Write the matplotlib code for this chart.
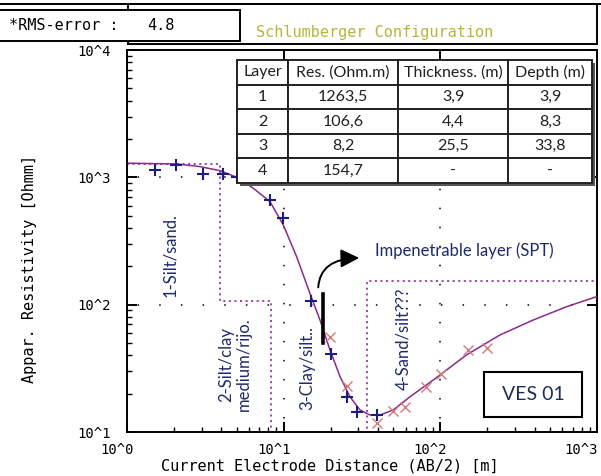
import matplotlib
matplotlib.use("Agg")
import matplotlib.pyplot as plt
from matplotlib.patches import Rectangle
from matplotlib.lines import Line2D
from matplotlib.ticker import LogLocator, NullFormatter
from matplotlib.transforms import ScaledTranslation

plt.rcParams['lines.scale_dashes'] = False

# field data (AB/2 in m, apparent resistivity in Ohm.m)
ab2_plus = [1.51, 2.05, 3.05, 4.10, 5.04, 8.18, 9.9, 14.9, 20.0, 25.3, 29.4, 39.4]
rho_plus = [1143, 1251, 1064, 1064, 1007, 664, 480, 107, 41, 18.8, 14.4, 13.6]
ab2_cross = [19.8, 25.3, 39.4, 49.8, 59.4, 80.9, 100.9, 150, 198]
rho_cross = [55.7, 23.0, 11.8, 14.6, 15.7, 22.6, 28.5, 44.1, 45.7]

# fitted curve
ab2_model = [1.02, 2.08, 2.92, 3.92, 5.01, 6.40, 8.18, 9.94, 12.1, 14.7, 17.05, 19.75,
             22.9, 26.5, 30.7, 35.5, 41.2, 50.1, 64.0, 90.1, 147, 240, 392, 640, 994]
rho_model = [1291, 1274, 1214, 1129, 1002, 821, 644, 423, 238, 123, 75.8, 44.1,
             27.2, 18.9, 14.9, 13.6, 13.6, 14.9, 18.9, 25.6, 40.3, 57.8, 75.8, 96.4, 115.6]

# layer model
layer_no = ["1", "2", "3", "4"]
layer_res = [1263.5, 106.6, 8.2, 154.7]
layer_thick = ["3,9", "4,4", "25,5", "-"]
layer_depth = [3.9, 8.3, 33.8]
table_header = ["Layer", "Res. (Ohm.m)", "Thickness. (m)", "Depth (m)"]

x_ticks = [1, 10, 100, 1000]
x_labels = ["10^0", "10^1", "10^2", "10^3"]
y_ticks = [10, 100, 1000, 10000]
y_labels = ["10^1", "10^2", "10^3", "10^4"]

W, H = 601, 476
fig = plt.figure(figsize=(W / 100, H / 100), dpi=100)
ax = fig.add_axes([127 / W, 1 - 432 / H, 470 / W, 382 / H])

mono = "DejaVu Sans Mono"
sans = "Lato"
purple = "#8b2a8b"
navy = "#1f2a6a"


def fx(px):
    return px / W


def fy(py):
    return 1 - py / H


# header boxes
fig.add_artist(Line2D([0, 1], [fy(4), fy(4)], transform=fig.transFigure, color="black", lw=1.4))
fig.add_artist(Rectangle((fx(128), fy(44)), fx(597) - fx(128), fy(4) - fy(44),
                         transform=fig.transFigure, fill=False, ec="black", lw=1.4))
fig.add_artist(Rectangle((fx(-2), fy(41)), fx(242), fy(10) - fy(41),
                         transform=fig.transFigure, fc="white", ec="black", lw=1.4, zorder=3))
fig.text(fx(9), fy(26), "*RMS-error :", family=mono, fontsize=11, va="center", zorder=4)
fig.text(fx(147), fy(26), "4.8", family=mono, fontsize=11, va="center", zorder=4)
fig.text(fx(375), fy(32), "Schlumberger Configuration", family=mono, fontsize=11,
         color="#b8b43a", ha="center", va="center")

ax.set_xscale("log")
ax.set_yscale("log")
ax.set_xlim(1, 1000)
ax.set_ylim(10, 10000)

# dotted grid
for yv in [100, 1000]:
    ax.axhline(yv, color="black", lw=1.1, ls=(8, (1.1, 14.5)), zorder=1)
for xv in [10, 100]:
    ax.axvline(xv, color="black", lw=1.1, ls=(4, (1.1, 12.6)), zorder=1)

# step layer model
xs, ys = [1], [layer_res[0]]
for i, d in enumerate(layer_depth):
    xs += [d, d]
    ys += [layer_res[i], layer_res[i + 1]]
xs.append(1000)
ys.append(layer_res[-1])
ax.plot(xs, ys, color="#9a3aa8", lw=1.3, ls=(0, (1.5, 2.5)), zorder=2)

ax.plot(ab2_model, rho_model, color=purple, lw=1.1, zorder=3)
ax.plot(ab2_plus, rho_plus, ls="none", marker="+", ms=9, mew=1.5, color="#1c1c80", zorder=4)
ax.plot(ab2_cross, rho_cross, ls="none", marker="x", ms=7, mew=1.0, color="#d07a7a", zorder=4)

# ticks
ax.set_xticks(x_ticks, labels=x_labels)
ax.set_yticks(y_ticks, labels=y_labels)
ax.xaxis.set_minor_locator(LogLocator(base=10, subs=range(2, 10)))
ax.yaxis.set_minor_locator(LogLocator(base=10, subs=range(2, 10)))
ax.xaxis.set_minor_formatter(NullFormatter())
ax.yaxis.set_minor_formatter(NullFormatter())
ax.tick_params(which="major", direction="in", length=7, width=1.4, top=True, right=True,
               labelsize=10, labelfontfamily=mono)
ax.tick_params(which="minor", direction="in", length=3.6, width=1.0, top=False, right=False)
ax.tick_params(axis="x", which="major", pad=8)
ax.tick_params(axis="y", which="major", pad=12)
shift = ScaledTranslation(-10 / 100, 0, fig.dpi_scale_trans)
edge_shift = ScaledTranslation(-6 / 100, 0, fig.dpi_scale_trans)
xlabs = ax.get_xticklabels()
for lab in xlabs:
    lab.set_transform(lab.get_transform() + shift)
xlabs[-1].set_transform(xlabs[-1].get_transform() + edge_shift)
for sp in ax.spines.values():
    sp.set_linewidth(1.4)

ax.set_xlabel("Current Electrode Distance (AB/2) [m]", family=mono, fontsize=11)
ax.set_ylabel("Appar. Resistivity [Ohmm]", family=mono, fontsize=11)
ax.xaxis.set_label_coords((330 - 127) / 470, (432 - 466) / 382)
ax.xaxis.label.set_va("center")
ax.yaxis.set_label_coords((30 - 127) / 470, (432 - 269) / 382)
ax.yaxis.label.set_va("center")

# layer labels
txt = dict(family=sans, fontsize=12, color=navy, rotation=90, ha="center", va="center")
ax.text(1.88, 245, "1-Silt/sand.", **txt)
ax.text(4.89, 34.2, "2-Silt/clay\nmedium/rijo.", linespacing=1.2, **txt)
ax.text(14.1, 31.8, "3-Clay/silt..", **txt)
ax.text(57.7, 53.8, "4-Sand/silt???", **txt)
ax.text(38.3, 264, "Impenetrable layer (SPT)", family=sans, fontsize=12, color=navy,
        ha="left", va="center")
ax.annotate("", xy=(31.6, 233), xytext=(16.6, 130),
            arrowprops=dict(arrowstyle="-|>,head_length=0.7,head_width=0.35", color="black",
                            lw=1.4, mutation_scale=16,
                            connectionstyle="angle3,angleA=90,angleB=0"))
ax.plot([17.8, 17.8], [50, 121], color="black", lw=2.6, zorder=5)

# VES box
ax.add_patch(Rectangle((0.7596, 0.0393), 0.2085, 0.1178, transform=ax.transAxes,
                       fc="white", ec="black", lw=1.5, zorder=6))
ax.text(0.7596 + 0.2085 / 2, 0.0393 + 0.1178 / 2, "VES 01", transform=ax.transAxes,
        family=sans, fontsize=14, color="#1f2d50", ha="center", va="center", zorder=7)

# layer table
rows = []
for i in range(4):
    dep = str(layer_depth[i]).replace(".", ",") if i < len(layer_depth) else "-"
    rows.append([layer_no[i], str(layer_res[i]).replace(".", ","), layer_thick[i], dep])
tx0, tx1 = (237 - 127) / 470, (592 - 127) / 470
ty0, ty1 = (432 - 183) / 382, (432 - 60) / 382
ax.add_patch(Rectangle((tx0 + 3 / 470, ty0 - 3 / 382), tx1 - tx0, ty1 - ty0,
                       transform=ax.transAxes, fc="#555555", ec="none", zorder=7))
tab = ax.table(cellText=rows, colLabels=table_header, cellLoc="center",
               colWidths=[51, 110, 110, 84], bbox=[tx0, ty0, tx1 - tx0, ty1 - ty0])
tab.auto_set_font_size(False)
tab.set_fontsize(11.5)
tab.set_zorder(8)
for cell in tab.get_celld().values():
    cell.set_linewidth(1.4)
    cell.set_edgecolor("#222222")
    cell.get_text().set_fontfamily(sans)
    cell.get_text().set_color("#202020")

fig.savefig("out.png", dpi=100)
